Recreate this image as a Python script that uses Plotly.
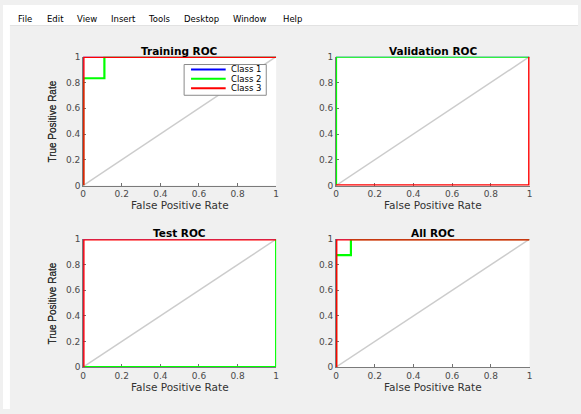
import plotly.graph_objects as go

W, H = 581, 414

# ---------------- data ----------------
class_names = ["Class 1", "Class 2", "Class 3"]
class_colors = ["#0000ff", "#00ff00", "#ff0000"]
class_widths = [1.0, 2.2, 2.8]
panel_titles = ["Training ROC", "Validation ROC", "Test ROC", "All ROC"]
tick_vals = [0, 0.2, 0.4, 0.6, 0.8, 1]
tick_text = ["0", "0.2", "0.4", "0.6", "0.8", "1"]
diag_x = [0, 1]
diag_y = [0, 1]

train_c1_fpr = [0, 0, 1]
train_c1_tpr = [0, 1, 1]
train_c2_fpr = [0, 0, 0.11, 0.11, 1]
train_c2_tpr = [0, 0.833, 0.833, 1, 1]
train_c3_fpr = [0, 0, 1]
train_c3_tpr = [0, 1, 1]

val_c1_fpr = [0, 0, 1]
val_c1_tpr = [0, 1, 1]
val_c2_fpr = [0, 0, 1]
val_c2_tpr = [0, 1, 1]
val_c3_fpr = [0, 1, 1]
val_c3_tpr = [0, 0, 1]

test_c1_fpr = [0, 0, 1]
test_c1_tpr = [0, 1, 1]
test_c2_fpr = [0, 1, 1]
test_c2_tpr = [0, 0, 1]
test_c3_fpr = [0, 0, 1]
test_c3_tpr = [0, 1, 1]

all_c1_fpr = [0, 0, 1]
all_c1_tpr = [0, 1, 1]
all_c2_fpr = [0, 0, 0.077, 0.077, 1]
all_c2_tpr = [0, 0.875, 0.875, 1, 1]
all_c3_fpr = [0, 0, 1]
all_c3_tpr = [0, 1, 1]

menu_items = ["File", "Edit", "View", "Insert", "Tools", "Desktop", "Window", "Help"]

panels = [
    [(train_c1_fpr, train_c1_tpr), (train_c2_fpr, train_c2_tpr), (train_c3_fpr, train_c3_tpr)],
    [(val_c1_fpr, val_c1_tpr), (val_c2_fpr, val_c2_tpr), (val_c3_fpr, val_c3_tpr)],
    [(test_c1_fpr, test_c1_tpr), (test_c2_fpr, test_c2_tpr), (test_c3_fpr, test_c3_tpr)],
    [(all_c1_fpr, all_c1_tpr), (all_c2_fpr, all_c2_tpr), (all_c3_fpr, all_c3_tpr)],
]

# ---------------- layout helpers ----------------
def PX(x):
    return x / W

def PY(y):
    return 1 - y / H

# pixel boxes of the four plot areas (left, right, top, bottom)
boxes = [
    (81, 276, 53, 185),
    (336.5, 532, 53, 185),
    (81, 276, 240, 371),
    (336.5, 532, 240, 371),
]

fig = go.Figure()
layout = dict(
    width=W, height=H, autosize=False,
    margin=dict(l=0, r=0, t=0, b=0),
    paper_bgcolor="#f0f0f0",
    plot_bgcolor="#ffffff",
    showlegend=False,
    annotations=[],
    shapes=[],
)

tick_font = dict(family="DejaVu Sans", size=9, color="#4a4a4a")

for i, (series, title, box) in enumerate(zip(panels, panel_titles, boxes)):
    n = "" if i == 0 else str(i + 1)
    xa, ya = "x" + n, "y" + n
    l, r, t, b = box
    layout["xaxis" + n] = dict(
        domain=[PX(l), PX(r)], range=[0, 1], anchor=ya,
        tickvals=tick_vals, ticktext=tick_text, ticks="inside", ticklen=3,
        tickcolor="#707070", showline=True, linecolor="#7a7a7a", linewidth=1,
        showgrid=False, zeroline=False, tickfont=tick_font, layer="below traces",
        fixedrange=True,
    )
    layout["yaxis" + n] = dict(
        domain=[PY(b), PY(t)], range=[0, 1], anchor=xa,
        tickvals=tick_vals, ticktext=tick_text, ticks="inside", ticklen=3,
        tickcolor="#707070", showline=True, linecolor="#7a7a7a", linewidth=1,
        showgrid=False, zeroline=False, tickfont=tick_font, layer="below traces",
        fixedrange=True,
    )
    fig.add_trace(go.Scatter(x=diag_x, y=diag_y, mode="lines", xaxis=xa, yaxis=ya,
                             line=dict(color="#cccccc", width=1.5), cliponaxis=False,
                             hoverinfo="skip"))
    for (fx, ty), name, col, lw in zip(series, class_names, class_colors, class_widths):
        fig.add_trace(go.Scatter(x=fx, y=ty, mode="lines", name=name, xaxis=xa, yaxis=ya,
                                 line=dict(color=col, width=lw), cliponaxis=False))
    cx = (l + r) / 2
    cy = (t + b) / 2
    layout["annotations"] += [
        dict(text=title, x=PX(cx), y=PY(t - 6), xref="paper", yref="paper",
             showarrow=False, xanchor="center", yanchor="middle",
             font=dict(family="DejaVu Sans", size=10.5, color="#000000", weight="bold")),
        dict(text="False Positive Rate", x=PX(cx), y=PY(b + 20), xref="paper", yref="paper",
             showarrow=False, xanchor="center", yanchor="middle",
             font=dict(family="DejaVu Sans", size=10.5, color="#333333")),
        dict(text="True Positive Rate", x=PX(50), y=PY(cy), xref="paper", yref="paper",
             showarrow=False, xanchor="center", yanchor="middle", textangle=-90,
             font=dict(family="Liberation Sans", size=10, color="#333333")),
    ]

# manual legend in the Training panel
leg_l, leg_r, leg_t, leg_b = 183, 266, 61, 92.5
layout["shapes"].append(dict(type="rect", xref="paper", yref="paper",
                             x0=PX(leg_l), x1=PX(leg_r), y0=PY(leg_b), y1=PY(leg_t),
                             line=dict(color="#8a8a8a", width=1), fillcolor="#ffffff"))
for k, (name, col) in enumerate(zip(class_names, class_colors)):
    yy = 66 + k * 9.6
    layout["shapes"].append(dict(type="line", xref="paper", yref="paper",
                                 x0=PX(190), x1=PX(225), y0=PY(yy), y1=PY(yy),
                                 line=dict(color=col, width=2)))
    layout["annotations"].append(dict(text=name, x=PX(228), y=PY(yy), xref="paper", yref="paper",
                                      showarrow=False, xanchor="left", yanchor="middle",
                                      font=dict(family="DejaVu Sans", size=8.5, color="#000000")))

# window chrome: white top strip with menu and white left margin
layout["shapes"] += [
    dict(type="rect", xref="paper", yref="paper", x0=0, x1=1, y0=PY(21), y1=1,
         line=dict(width=0), fillcolor="#ffffff", layer="below"),
    dict(type="rect", xref="paper", yref="paper", x0=0, x1=PX(7), y0=0, y1=1,
         line=dict(width=0), fillcolor="#ffffff", layer="below"),
    dict(type="line", xref="paper", yref="paper", x0=PX(7), x1=1, y0=PY(21), y1=PY(21),
         line=dict(color="#e2e2e2", width=1)),
]
menu_x = [13, 42, 73, 107, 144, 181, 230, 281]
for label, mx in zip(menu_items, menu_x):
    layout["annotations"].append(dict(text=label, x=PX(mx), y=PY(14.5), xref="paper", yref="paper",
                                      showarrow=False, xanchor="left", yanchor="middle",
                                      font=dict(family="DejaVu Sans", size=8.5, color="#000000")))

fig.update_layout(**layout)
fig.write_html("out.html", config=dict(displayModeBar=False),
               post_script="document.body.style.margin='0';document.body.style.overflow='hidden';")
